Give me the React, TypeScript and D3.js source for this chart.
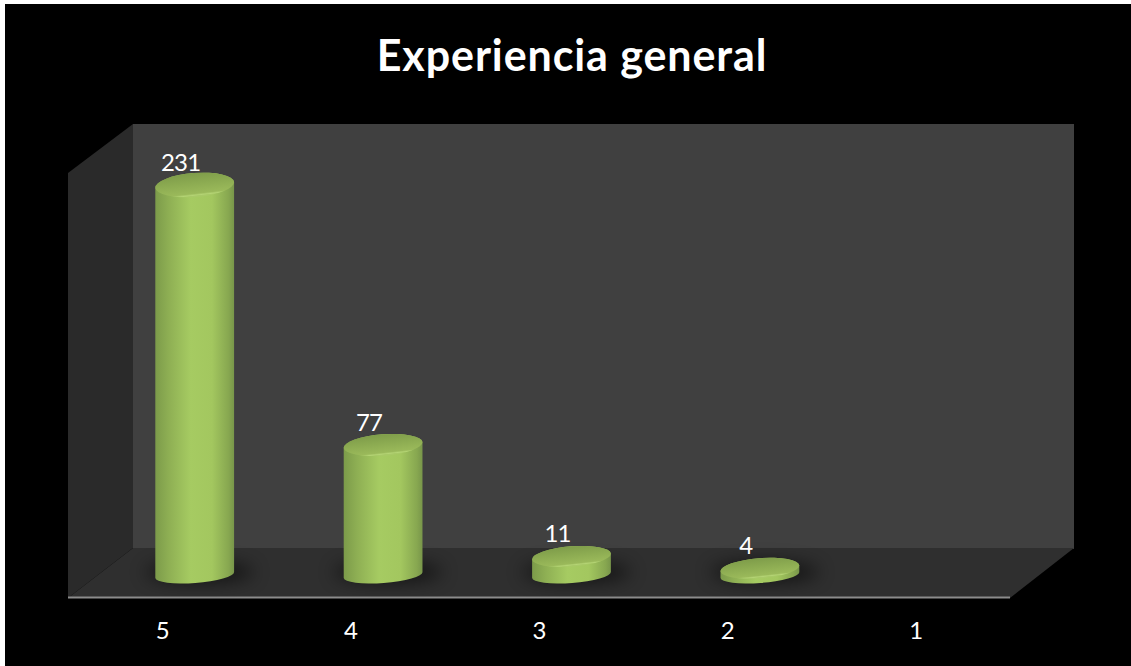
import React from "react";
import * as d3 from "d3";

const title = "Experiencia general";
const categories = ["5", "4", "3", "2", "1"];
const counts: (number | null)[] = [231, 77, 11, 4, null];

const W = 1131;
const H = 666;
const frame = { x: 5, y: 4, w: W - 5, h: H - 4 };
const front = { left: 68, right: 1010, top: 173, bottom: 598 };
const depth = { dx: 65, dy: -50 };

const xFront = d3.scaleBand<string>().domain(categories).range([front.left, front.right]);
const xMid = d3.scaleBand<string>().domain(categories).range([front.left + 32.5, front.right + 32.5]);
const y = d3.scaleLinear().domain([0, 231]).range([575, 185]);
// Perspective: the cap ellipse opens up slightly as the column rises.
const capRy = d3.scaleLinear().domain([0, 231]).range([10, 12]);

const barW = 79;
const baseRy = 8;
const tilt = -4.3;

function pts(p: [number, number][]) {
  return p.map((d) => d.join(",")).join(" ");
}

function columnPath(cx: number, top: number, bottom: number, rTop: number) {
  const r = barW / 2;
  const a = (tilt * Math.PI) / 180;
  const dx = r * Math.cos(a);
  const dy = r * Math.sin(a);
  return `M${cx - dx},${top - dy} L${cx - dx},${bottom - dy} A${r},${baseRy} ${tilt} 0 0 ${cx + dx},${bottom + dy} L${cx + dx},${top + dy} A${r},${rTop} ${tilt} 0 0 ${cx - dx},${top - dy} Z`;
}

export default function App() {
  const fontFamily = "Lato, 'Open Sans', sans-serif";
  const labelStyle = { letterSpacing: "-0.8px" };
  return (
    <svg
      width={W}
      height={H}
      viewBox={`0 0 ${W} ${H}`}
      style={{ position: "fixed", left: 0, top: 0, background: "#fff" }}
    >
      <defs>
        <linearGradient id="column" x1="0" x2="1" y1="0" y2="0">
          <stop offset="0" stopColor="#7c9b4a" />
          <stop offset="0.18" stopColor="#8fb054" />
          <stop offset="0.45" stopColor="#a6cb62" />
          <stop offset="0.72" stopColor="#a3c75f" />
          <stop offset="0.93" stopColor="#87a750" />
          <stop offset="1" stopColor="#78964a" />
        </linearGradient>
        <linearGradient id="cap" x1="0" x2="0.12" y1="0" y2="1">
          <stop offset="0" stopColor="#7d9b49" />
          <stop offset="0.5" stopColor="#8dac52" />
          <stop offset="0.9" stopColor="#9ab95a" />
          <stop offset="0.97" stopColor="#b4d474" />
          <stop offset="1" stopColor="#a8c967" />
        </linearGradient>
        <filter id="soft" x="-60%" y="-300%" width="220%" height="700%">
          <feGaussianBlur stdDeviation="9" />
        </filter>
      </defs>

      <rect x={frame.x} y={frame.y} width={frame.w} height={frame.h} fill="#000" />

      <text
        x={572}
        y={71}
        textAnchor="middle"
        fill="#fff"
        fontFamily={fontFamily}
        fontWeight={700}
        fontSize={43}
        style={{ letterSpacing: "0.9px" }}
      >
        {title}
      </text>

      {/* Chart box: back wall, side wall and floor */}
      <rect
        x={front.left + depth.dx}
        y={front.top + depth.dy + 1}
        width={front.right - front.left - 1}
        height={front.bottom - front.top}
        fill="#404040"
      />
      <polygon
        fill="#2a2a2a"
        points={pts([
          [front.left, front.top],
          [front.left + depth.dx, front.top + depth.dy + 1],
          [front.left + depth.dx, front.bottom + depth.dy],
          [front.left, front.bottom],
        ])}
      />
      <polygon
        fill="#2f2f2f"
        points={pts([
          [front.left, front.bottom],
          [front.left + depth.dx, front.bottom + depth.dy],
          [front.right + depth.dx - 1, front.bottom + depth.dy],
          [front.right, front.bottom],
        ])}
      />
      <line
        x1={front.left}
        x2={front.right}
        y1={front.bottom - 0.5}
        y2={front.bottom - 0.5}
        stroke="#8c8c8c"
        strokeWidth={2}
      />

      {categories.map((c, i) => {
        const v = counts[i];
        if (v == null) return null;
        const cx = xMid(c)! + xMid.bandwidth() / 2;
        const top = y(v);
        const bottom = y(0);
        const ry = capRy(v);
        return (
          <g key={c}>
            <ellipse
              cx={cx + 5}
              cy={bottom - 3}
              rx={54}
              ry={10}
              fill="#000"
              opacity={0.6}
              filter="url(#soft)"
            />
            <path d={columnPath(cx, top, bottom, ry)} fill="url(#column)" />
            <ellipse
              cx={cx}
              cy={top}
              rx={barW / 2}
              ry={ry}
              transform={`rotate(${tilt} ${cx} ${top})`}
              fill="url(#cap)"
            />
            <text
              x={cx - 14}
              y={top - 14}
              textAnchor="middle"
              fill="#fff"
              fontFamily={fontFamily}
              fontSize={24}
              style={labelStyle}
            >
              {v}
            </text>
          </g>
        );
      })}

      {categories.map((c) => (
        <text
          key={c}
          x={xFront(c)! + xFront.bandwidth() / 2}
          y={639}
          textAnchor="middle"
          fill="#fff"
          fontFamily={fontFamily}
          fontSize={24}
          style={labelStyle}
        >
          {c}
        </text>
      ))}
    </svg>
  );
}
